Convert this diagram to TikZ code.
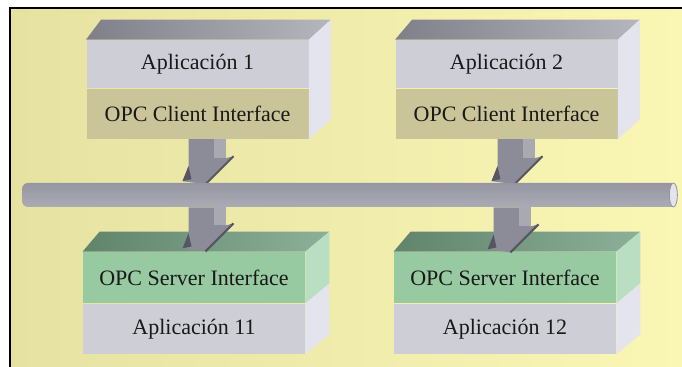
\documentclass[tikz,border=0pt]{standalone}
\usepackage{fontspec}
\setmainfont{Liberation Serif}
\newfontfamily\serifa{Liberation Serif}
\usepackage{xcolor}
\usetikzlibrary{positioning,calc}

\definecolor{fondo}{RGB}{230,226,162}
\definecolor{fondoclaro}{RGB}{250,246,180}
\definecolor{grisapp}{RGB}{206,206,214}
\definecolor{caqui}{RGB}{201,197,152}
\definecolor{grissup}{RGB}{150,150,162}
\definecolor{lateral}{RGB}{228,228,238}
\definecolor{tubogris}{RGB}{196,196,208}
\definecolor{verdesrv}{RGB}{152,202,162}
\definecolor{verdesup}{RGB}{112,156,126}
\definecolor{verdelat}{RGB}{186,222,194}
\definecolor{grisflecha}{RGB}{140,140,152}
\definecolor{grisosc}{RGB}{86,86,98}

% block arrow: #1 start point, #2 length
\newcommand{\flecha}[2]{%
  \begin{scope}[shift={#1}]
    \fill[grisflecha] (-19,0) -- (18,0) -- (18,{#2-26}) -- (26,{#2-28}) -- (-2,#2)
      -- (-25,{#2-3}) -- (-19,{#2-18}) -- cycle;
    \fill[grisflecha!75!white] (6,0) rectangle (18,{#2-26});
    \fill[grisosc] (-25,{#2-3}) -- (-19,{#2-18}) -- (-16,{#2-5}) -- cycle;
    \draw[grisosc,line width=1pt] (26,{#2-28}) -- (-2,#2);
  \end{scope}}

\begin{document}
\begin{tikzpicture}[x=0.5pt,y=-0.5pt,
  cara/.style={rectangle,inner sep=0pt,minimum width=111pt,
    font=\serifa\fontsize{11}{13}\selectfont,text=black!90},
  app/.style={cara,fill=grisapp,minimum height=24pt},
  cli/.style={cara,fill=caqui,minimum height=25pt},
  srv/.style={cara,fill=verdesrv,minimum height=25.5pt},
  tubo/.style={rectangle,rounded corners=3pt,minimum width=327.5pt,minimum height=12pt,
    top color=grissup,middle color=tubogris,bottom color=grissup!80!white}]
  \useasboundingbox (0,0) rectangle (682,367);
  % background and frame
  \fill[white] (0,0) rectangle (682,367);
  \shade[left color=fondo,right color=fondoclaro] (10,8) rectangle (682,367);
  \draw[line width=1pt] (10,367) -- (10,8) -- (682,8);

  % clients
  \node[app] (app1) at (197.5,64) {Aplicación 1};
  \node[cli,below=0pt of app1] (cli1) {OPC Client Interface};
  \node[app] (app2) at (506.5,64) {Aplicación 2};
  \node[cli,below=0pt of app2] (cli2) {OPC Client Interface};
  \shade[left color=grissup!85!black,right color=grissup!70!white]
    (app1.north west) -- (app1.north east) -- ++(22,-20) -- ($(app1.north west)+(15,-20)$) -- cycle;
  \fill[lateral] (app1.north east) -- ++(22,-20) -- ($(cli1.south east)+(22,-20)$) -- (cli1.south east) -- cycle;
  \shade[left color=grissup!85!black,right color=grissup!70!white]
    (app2.north west) -- (app2.north east) -- ++(22,-20) -- ($(app2.north west)+(17,-20)$) -- cycle;
  \fill[lateral] (app2.north east) -- ++(22,-20) -- ($(cli2.south east)+(22,-20)$) -- (cli2.south east) -- cycle;

  % servers
  \node[srv] (srv1) at (194,277.5) {OPC Server Interface};
  \node[app,below=0pt of srv1,minimum height=25pt] (app11) {Aplicación 11};
  \node[srv] (srv2) at (505,277.5) {OPC Server Interface};
  \node[app,below=0pt of srv2,minimum height=25pt] (app12) {Aplicación 12};
  \shade[left color=verdesup!85!black,right color=verdesup!80!white]
    (srv1.north west) -- (srv1.north east) -- ++(24,-20) -- ($(srv1.north west)+(17,-20)$) -- cycle;
  \fill[verdelat] (srv1.north east) -- ++(24,-20) -- ($(srv1.south east)+(24,-20)$) -- (srv1.south east) -- cycle;
  \fill[lateral] (app11.north east) -- ++(24,-20) -- ($(app11.south east)+(24,-20)$) -- (app11.south east) -- cycle;
  \shade[left color=verdesup!85!black,right color=verdesup!80!white]
    (srv2.north west) -- (srv2.north east) -- ++(24,-20) -- ($(srv2.north west)+(17,-20)$) -- cycle;
  \fill[verdelat] (srv2.north east) -- ++(24,-20) -- ($(srv2.south east)+(24,-20)$) -- (srv2.south east) -- cycle;
  \fill[lateral] (app12.north east) -- ++(24,-20) -- ($(app12.south east)+(24,-20)$) -- (app12.south east) -- cycle;

  % arrows down to the bus
  \flecha{($(cli1.south)+(10,0)$)}{45}
  \flecha{($(cli2.south)+(10,0)$)}{45}

  % bus
  \node[tubo] (bus) at (349.5,195) {};
  \filldraw[draw=grissup,fill=lateral] ($(bus.east)+(-4,0)$) ellipse (4 and 12);

  % arrows down to the servers
  \flecha{($(bus.south -| cli1.south)+(10,0)$)}{44}
  \flecha{($(bus.south -| cli2.south)+(6,0)$)}{45}
\end{tikzpicture}
\end{document}
